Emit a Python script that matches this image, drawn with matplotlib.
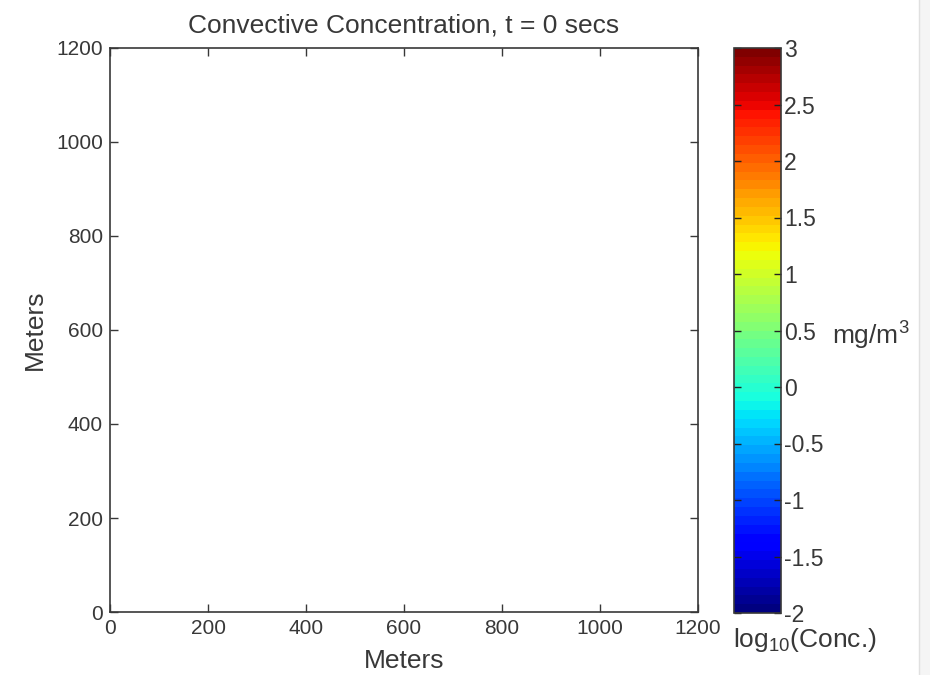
import numpy as np
import matplotlib
matplotlib.use("Agg")
import matplotlib.pyplot as plt
from matplotlib.colors import ListedColormap, Normalize
from matplotlib.cm import ScalarMappable
from matplotlib.patches import Rectangle

plt.rcParams['font.family'] = ['Liberation Sans', 'DejaVu Sans']
plt.rcParams['mathtext.fontset'] = 'custom'
plt.rcParams['mathtext.rm'] = 'Liberation Sans'
plt.rcParams['mathtext.it'] = 'Liberation Sans'

# domain and colour scale
t_secs = 0
x_lim = [0, 1200]
y_lim = [0, 1200]
x_ticks = [0, 200, 400, 600, 800, 1000, 1200]
y_ticks = [0, 200, 400, 600, 800, 1000, 1200]
c_lim = [-2, 3]
c_ticks = [-2, -1.5, -1, -0.5, 0, 0.5, 1, 1.5, 2, 2.5, 3]
c_ticklabels = ['-2', '-1.5', '-1', '-0.5', '0', '0.5', '1', '1.5', '2', '2.5', '3']

ink = '#383838'
fs_tick = 15
fs_lab = 19

W, H = 930, 675
fig = plt.figure(figsize=(W / 100, H / 100), dpi=100)

def px(l, t, r, b):
    return [l / W, 1 - b / H, (r - l) / W, (b - t) / H]

ax = fig.add_axes(px(110, 48, 698, 612))
ax.set_xlim(x_lim)
ax.set_ylim(y_lim)
ax.set_xticks(x_ticks)
ax.set_yticks(y_ticks)
ax.tick_params(direction='in', top=True, right=True, length=6, width=1,
               colors=ink, labelsize=fs_tick, pad=5)
for s in ax.spines.values():
    s.set_color(ink)
    s.set_linewidth(1.2)
ax.set_xlabel('Meters', fontsize=fs_lab, color=ink, labelpad=8)
ax.set_ylabel('Meters', fontsize=fs_lab, color=ink, labelpad=7)
ax.set_title('Convective Concentration, t = %d secs' % t_secs,
             fontsize=fs_lab, color=ink, pad=11)

# matlab style jet with 64 levels
jet64 = ListedColormap(plt.get_cmap('jet')(np.linspace(0, 1, 64)))
sm = ScalarMappable(norm=Normalize(*c_lim), cmap=jet64)
cax = fig.add_axes(px(734, 48, 781, 613))
cb = fig.colorbar(sm, cax=cax, ticks=c_ticks)
cb.set_ticklabels(c_ticklabels)
cb.outline.set_edgecolor(ink)
cb.outline.set_linewidth(1.2)
cax.tick_params(direction='in', left=True, right=True, length=5, width=1,
                colors='#222222', labelcolor=ink, labelsize=fs_tick + 1.5, pad=2)

fig.text(832 / W, 1 - 336 / H, 'mg/m$^3$', fontsize=fs_lab, color=ink,
         ha='left', va='center')
fig.text(733 / W, 1 - 640 / H, 'log$_{10}$(Conc.)', fontsize=fs_lab, color=ink,
         ha='left', va='center')

# light frame strip on the right
fig.patches.append(Rectangle((919 / W, 0), 11 / W, 1, transform=fig.transFigure,
                             facecolor='#f5f5f5', edgecolor='none'))
fig.lines.append(plt.Line2D([919 / W, 919 / W], [0, 1], transform=fig.transFigure,
                            color='#e0e0e0', lw=1))

fig.savefig('out.png', dpi=100)
